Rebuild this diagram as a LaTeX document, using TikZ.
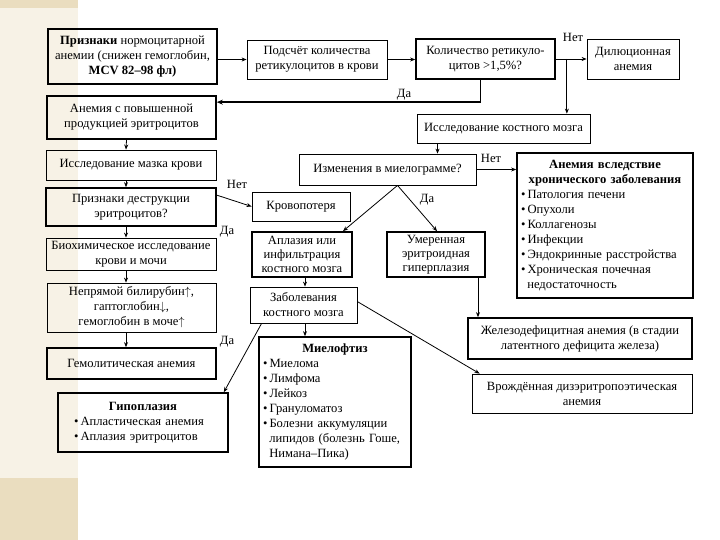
\documentclass[tikz,border=0pt]{standalone}
\usepackage{fontspec}
\setmainfont{Liberation Serif}
\usetikzlibrary{calc,arrows.meta}
\definecolor{stripA}{HTML}{F7F2E6}
\definecolor{stripB}{HTML}{EADDBF}
\begin{document}
\begin{tikzpicture}[x=1pt,y=-1pt,
  every node/.style={font=\fontsize{12.6}{15}\selectfont},
  bx/.style={draw, line width=0.8pt, align=center, inner sep=1pt, anchor=center},
  bxk/.style={bx, line width=1.7pt},
  arr/.style={line width=0.8pt, -{Stealth[length=5pt,width=4pt]}},
  arrk/.style={line width=1.7pt, -{Stealth[length=6pt,width=5pt]}},
  lbl/.style={inner sep=0pt, anchor=center}]
\useasboundingbox (0,0) rectangle (720,540);
% background strip
\fill[stripA] (0,0) rectangle (78,540);
\fill[stripB] (0,478) rectangle (78,540);
\fill[stripB] (0,0) rectangle (78,8);

% boxes
\node[bxk, minimum width=169pt, minimum height=55pt] (b1) at (132.5,56.5)
  {\textbf{Признаки} нормоцитарной\\анемии (снижен гемоглобин,\\\textbf{MCV 82–98 фл)}};
\node[bx, minimum width=140pt, minimum height=39pt] (b2) at (317,59.5)
  {Подсчёт количества\\ретикулоцитов в крови};
\node[bxk, minimum width=139pt, minimum height=40pt] (b3) at (485.5,59)
  {Количество ретикуло-\\цитов >1,5\%?};
\node[bx, minimum width=92pt, minimum height=40pt] (b4) at (633,59)
  {Дилюционная\\анемия};
\node[bx, minimum width=173pt, minimum height=29pt] (b5) at (503.5,128.5)
  {Исследование костного мозга};
\node[bxk, minimum width=169pt, minimum height=43pt] (b6) at (131.5,117.5)
  {Анемия с повышенной\\продукцией эритроцитов};
\node[bx, minimum width=170pt, minimum height=30pt] (b7) at (131,165)
  {Исследование мазка крови};
\node[bxk, minimum width=170pt, minimum height=38pt] (b8) at (131,207)
  {Признаки деструкции\\эритроцитов?};
\node[bx, minimum width=170pt, minimum height=32pt, inner sep=0pt] (b9) at (131,254)
  {Биохимическое исследование\\крови и мочи};
\node[bx, minimum width=169pt, minimum height=49pt, inner sep=0pt] (b10) at (131.5,307.5)
  {Непрямой билирубин$\uparrow$,\\гаптоглобин$\downarrow$,\\гемоглобин в моче$\uparrow$};
\node[bxk, minimum width=169pt, minimum height=31pt] (b11) at (131.5,363.5)
  {Гемолитическая анемия};
\node[bx, minimum width=98pt, minimum height=29pt] (b12) at (301,206.5)
  {Кровопотеря};
\node[bx, minimum width=177pt, minimum height=31pt] (b13) at (387.5,169.5)
  {Изменения в миелограмме?};
\node[bxk, text width=168pt, inner xsep=4pt, inner ysep=1pt, minimum height=145pt, align=left] (b14) at (605,225.5)
  {{\centering\textbf{Анемия вследствие}\\\textbf{хронического заболевания}\par}
   \textbullet\,Патология печени\par
   \textbullet\,Опухоли\par
   \textbullet\,Коллагенозы\par
   \textbullet\,Инфекции\par
   \textbullet\,Эндокринные расстройства\par
   \textbullet\,Хроническая почечная\par
   \hspace*{0.5em}недостаточность};
\node[bxk, minimum width=100pt, minimum height=45pt, inner sep=0pt,
      font=\fontsize{12.6}{14}\selectfont] (b15) at (302,254.5)
  {Аплазия или\\инфильтрация\\костного мозга};
\node[bxk, minimum width=98pt, minimum height=45pt, inner sep=0pt,
      font=\fontsize{12.6}{14}\selectfont] (b16) at (436,254.5)
  {Умеренная\\эритроидная\\гиперплазия};
\node[bxk, minimum width=224pt, minimum height=41pt, inner xsep=0pt] (b17) at (580,338.5)
  {Железодефицитная анемия (в стадии\\латентного дефицита железа)};
\node[bx, minimum width=220pt, minimum height=39pt] (b18) at (582,393.5)
  {Врождённая дизэритропоэтическая\\анемия};
\node[bx, minimum width=107pt, minimum height=36pt] (b19) at (303.5,305)
  {Заболевания\\костного мозга};
\node[bxk, text width=162pt, inner xsep=4pt, minimum height=59pt, align=left] (b20) at (143,422.5)
  {{\centering\textbf{Гипоплазия}\par}
   \hspace*{12pt}\textbullet\,Апластическая анемия\par
   \hspace*{12pt}\textbullet\,Аплазия эритроцитов};
\node[bxk, text width=144pt, inner xsep=4pt, minimum height=130pt, align=left] (b21) at (335,402)
  {{\centering\textbf{Миелофтиз}\par}
   \textbullet\,Миелома\par
   \textbullet\,Лимфома\par
   \textbullet\,Лейкоз\par
   \textbullet\,Грануломатоз\par
   \textbullet\,Болезни аккумуляции\par
   \hspace*{0.5em}липидов (болезнь Гоше,\par
   \hspace*{0.5em}Нимана–Пика)};

% labels
\node[lbl] (l1) at (573,37) {Нет};
\node[lbl] (l2) at (404,95) {Да};
\node[lbl] (l3) at (237,184) {Нет};
\node[lbl] (l4) at (227,232) {Да};
\node[lbl] (l5) at (227,342) {Да};
\node[lbl] (l6) at (491,158) {Нет};
\node[lbl] (l7) at (427,200) {Да};

% helper coordinates
\coordinate (j1) at ($(b3.east)+(11,0)$);
\coordinate (j2) at ($(b13.north)+(50,0)$);
\coordinate (j3) at ($(b5.south)+(-66,0)$);
\coordinate (c3) at ($(b3.south)+(-5,0)$);
\coordinate (c6) at ($(b6.north east)+(0,7)$);
\coordinate (c16) at ($(b16.south)+(42,0)$);
\coordinate (c19s) at ($(b19.south)+(1.5,0)$);
\coordinate (c13) at ($(b13.south)+(10,0)$);

% connectors
\draw[arr] (b1.east |- b2.west) -- (b2.west);
\draw[arr] (b2.east) -- (b3.west |- b2.east);
\draw[arr] (b3.east) -- (b4.west);
\draw[arr] (j1) -- (j1 |- b5.north);
\draw[arrk] (c3) |- (c6);
\draw[arr] (j3) -- (j2);
\draw[arr] ($(b6.south)+(-5,0)$) -- ($(b7.north)+(-5,0)$);
\draw[arr] ($(b7.south)+(-5,0)$) -- ($(b8.north)+(-5,0)$);
\draw[arr] ($(b8.south)+(-5,0)$) -- ($(b9.north)+(-5,0)$);
\draw[arr] ($(b9.south)+(-5,0)$) -- ($(b10.north)+(-5.5,0)$);
\draw[arr] ($(b10.south)+(-5.5,0)$) -- ($(b11.north)+(-5.5,0)$);
\draw[arr] ($(b8.north east)+(0,8)$) -- (b12.west);
\draw[arr] (b13.east) -- (b14.west |- b13.east);
\draw[arr] (c13) -- ($(b15.north)+(41,0)$);
\draw[arr] (c13) -- ($(b16.north)+(1,0)$);
\draw[arr] ($(b15.south)+(3,0)$) -- ($(b19.north)+(1.5,0)$);
\draw[arr] (c16) -- (c16 |- b17.north);
\draw[arr] ($(b19.south west)+(12,0)$) -- ($(b20.north east)+(-5,0)$);
\draw[arr] (c19s) -- (c19s |- b21.north);
\draw[arr] ($(b19.north east)+(0,15)$) -- ($(b18.north west)+(8,0)$);
\end{tikzpicture}
\end{document}
